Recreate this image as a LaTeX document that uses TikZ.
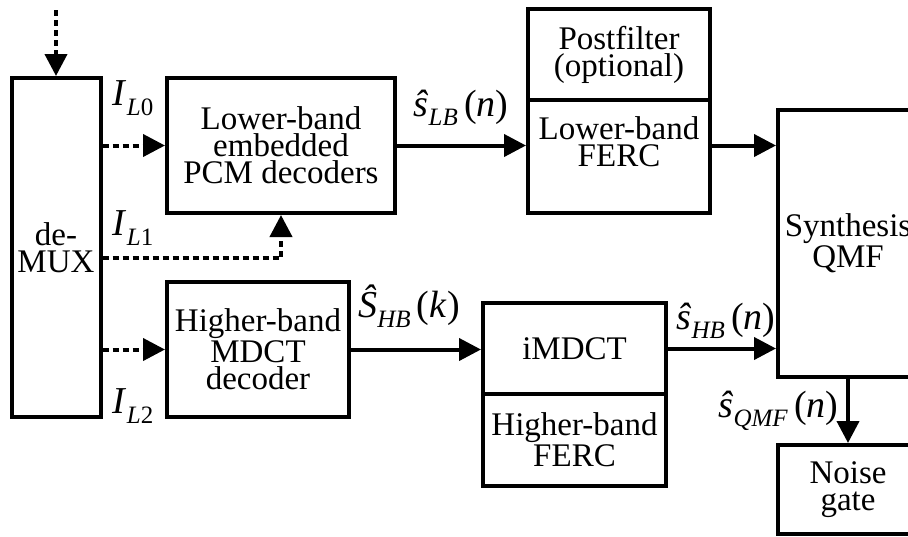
\documentclass[tikz,border=0pt]{standalone}
\usepackage{fontspec}
\setmainfont{Liberation Serif}
\usetikzlibrary{arrows.meta}
\newcommand*{\lowsub}[1]{\raisebox{-0.55ex}{\fontsize{12.5}{12.5}\selectfont\textit{#1}}}
\newcommand*{\idx}[1]{\textit{I}\lowsub{L}{\raisebox{-0.55ex}{\fontsize{12.5}{12.5}\selectfont #1}}}
\newcommand*{\sig}[3]{\textit{#1}\lowsub{#2}\,(\textit{#3})}
\tikzset{
  blk/.style={draw, line width=2pt, align=center, inner sep=0pt,
              font=\fontsize{16.5}{13.5}\selectfont},
  txt/.style={align=center, inner sep=0pt, font=\fontsize{16.5}{13.5}\selectfont},
  sigl/.style={inner sep=0pt, font=\fontsize{19}{19}\selectfont},
  link/.style={line width=2pt, -{Triangle[length=11pt,width=11pt]}},
  dlink/.style={link, dash pattern=on 3pt off 2pt},
}

\begin{document}
\begin{tikzpicture}[x=0.5pt,y=-0.5pt]
  \useasboundingbox (0,0) rectangle (908,536);
  \clip (0,0) rectangle (908,536);
  % blocks
  \node[blk, minimum width=44.5pt, minimum height=169.5pt] (demux) at (56,247.5) {de-\\MUX};
  \node[blk, minimum width=114pt, minimum height=67.5pt] (lbdec) at (281,145.5)
       {Lower-band\\embedded\\PCM decoders};
  \node[blk, minimum width=91pt, minimum height=67.5pt] (hbdec) at (258,349.5)
       {Higher-band\\MDCT\\decoder};
  \node[blk, minimum width=91pt, minimum height=45.5pt] (post) at (619,54.5)
       {Postfilter\\(optional)};
  \node[blk, minimum width=91pt, minimum height=56.5pt, anchor=north, yshift=2pt] (lbferc)
       at (post.south) {};
  \node[txt] (lbfercT) at (619,142) {Lower-band\\FERC};
  \node[blk, minimum width=91.5pt, minimum height=45.5pt] (imdct) at (574.5,348.5) {iMDCT};
  \node[blk, minimum width=91.5pt, minimum height=46pt, anchor=north, yshift=2pt] (hbferc)
       at (imdct.south) {Higher-band\\FERC};
  \node[blk, minimum width=70pt, minimum height=133.5pt] (qmf) at (848,243.5) {Synthesis\\QMF};
  \node[blk, minimum width=70pt, minimum height=44.5pt] (noise) at (848,489.5) {Noise\\gate};
  \coordinate (in) at (56,10);
  \coordinate (l1) at (0,258);
  % connectors
  \draw[dlink] (in) -- (demux.north);
  \draw[dlink] (demux.east |- lbdec.west) -- (lbdec.west);
  \draw[dlink] (demux.east |- l1) -| (lbdec.south);
  \draw[dlink] (demux.east |- hbdec.west) -- (hbdec.west);
  \draw[link] (lbdec.east) -- (lbdec.east -| lbferc.west);
  \draw[link] (lbdec.east -| lbferc.east) -- (lbdec.east -| qmf.west);
  \draw[link] (hbdec.east) -- (hbdec.east -| imdct.west);
  \draw[link] (imdct.east) -- (imdct.east -| qmf.west);
  \draw[link] (qmf.south -| noise.north) -- (noise.north);
  % labels
  \node[sigl] (iL0) at (133,98) {\idx{0}};
  \node[sigl] (iL1) at (133,228) {\idx{1}};
  \node[sigl] (iL2) at (133,406) {\idx{2}};
  \node[sigl] (sLB) at (461,108) {\sig{ŝ}{LB}{n}};
  \node[sigl] (SHB) at (409,306) {\sig{Ŝ}{HB}{k}};
  \node[sigl] (sHB) at (726,321) {\sig{ŝ}{HB}{n}};
  \node[sigl, anchor=east] (sQMF) at (839,411) {\sig{ŝ}{QMF}{n}};
\end{tikzpicture}
\end{document}
